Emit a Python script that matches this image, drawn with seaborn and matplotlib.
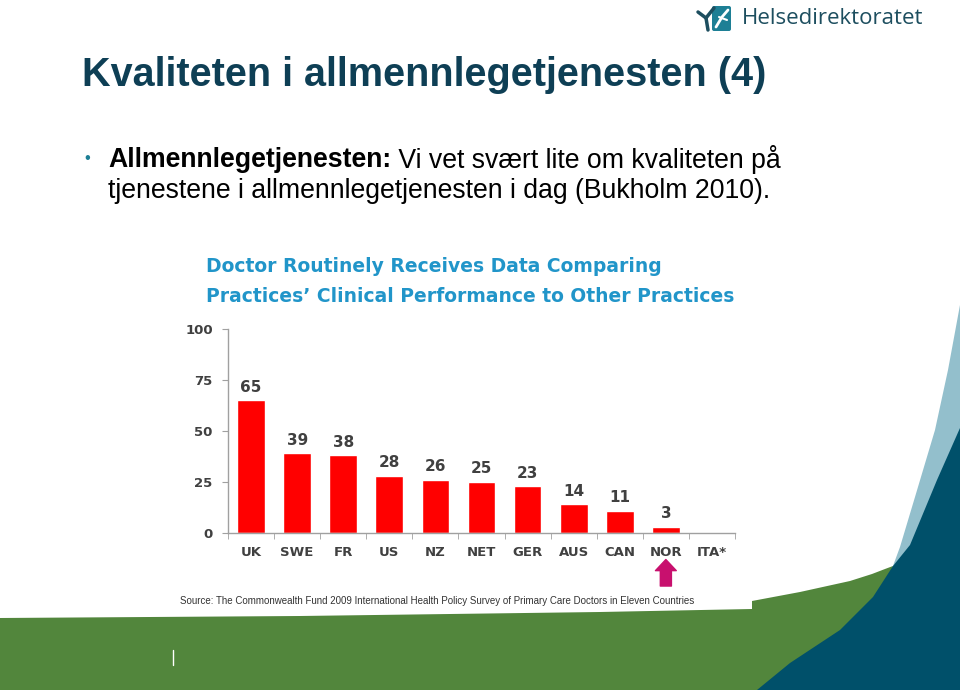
import matplotlib
matplotlib.use("Agg")
import matplotlib.pyplot as plt
from matplotlib.patches import Polygon, FancyBboxPatch
import seaborn as sns

# data
countries = ["UK", "SWE", "FR", "US", "NZ", "NET", "GER", "AUS", "CAN", "NOR", "ITA*"]
shares = [65, 39, 38, 28, 26, 25, 23, 14, 11, 3]   # ITA* has no value
highlight = "NOR"

slide_title = "Kvaliteten i allmennlegetjenesten (4)"
bullet_bold = "Allmennlegetjenesten:"
bullet_rest = " Vi vet svært lite om kvaliteten på"
bullet_line2 = "tjenestene i allmennlegetjenesten i dag (Bukholm 2010)."
chart_title = ["Doctor Routinely Receives Data Comparing",
               "Practices\u2019 Clinical Performance to Other Practices"]
source = "Source: The Commonwealth Fund 2009 International Health Policy Survey of Primary Care Doctors in Eleven Countries"

W, H = 960, 690
sns.set_style("white")
plt.rcParams["font.family"] = ["Liberation Sans", "DejaVu Sans"]

fig = plt.figure(figsize=(W / 100, H / 100), dpi=100)

def fx(x):
    return x / W

def fy(y):
    return 1 - y / H

# background decoration (pixel coords)
bg = fig.add_axes([0, 0, 1, 1], zorder=-1)
bg.set_xlim(0, W)
bg.set_ylim(H, 0)
bg.axis("off")
green = [(0, 618), (300, 616), (600, 612), (752, 609), (752, 601), (800, 592),
         (850, 581), (872, 574), (885, 569), (893, 566), (960, 566), (960, 690), (0, 690)]
lightblue = [(890, 574), (900, 547), (915, 497), (935, 430), (948, 370), (960, 305),
             (960, 690), (890, 690)]
darkteal = [(757, 690), (790, 663), (840, 630), (873, 597), (893, 566), (910, 545),
            (937, 480), (960, 428), (960, 690)]
bg.add_patch(Polygon(green, closed=True, color="#52863c", lw=0))
bg.add_patch(Polygon(lightblue, closed=True, color="#93bfcc", lw=0))
bg.add_patch(Polygon(darkteal, closed=True, color="#00506a", lw=0))
bg.plot([173, 173], [650, 665], color="white", lw=1)

# logo
bg.add_patch(FancyBboxPatch((712, 6), 19, 25, boxstyle="round,pad=0,rounding_size=2",
                            color="#1d7f95", lw=0))
bg.plot([716, 722, 728], [27, 17, 10], color="white", lw=2)
bg.plot([719, 727], [17, 20], color="white", lw=1.5)
bg.plot([698, 706, 714], [12, 18, 8], color="#1d4e5f", lw=2.5)
bg.plot([706, 708], [18, 30], color="#1d4e5f", lw=2.5)
fig.text(fx(742), fy(18), "Helsedirektoratet", fontsize=16, color="#1d4e5f",
         va="center", ha="left", family=["Open Sans", "DejaVu Sans"])

# slide texts
fig.text(fx(82), fy(75), slide_title, fontsize=28.5, fontweight="bold",
         color="#0e3f55", va="center", ha="left")
fig.text(fx(84), fy(159), "\u2022", fontsize=12, color="#1d7f95", va="center")
t1 = fig.text(fx(108), fy(160), bullet_bold, fontsize=19.2, fontweight="bold",
              color="black", va="center", ha="left")
fig.canvas.draw()
bb = t1.get_window_extent()
fig.text(bb.x1 / W, fy(160), bullet_rest, fontsize=19.2, color="black",
         va="center", ha="left")
fig.text(fx(108), fy(191), bullet_line2, fontsize=19.2, color="black",
         va="center", ha="left")

fig.text(fx(206), fy(266), chart_title[0], fontsize=13.5, fontweight="bold",
         color="#2195c9", va="center", family=["DejaVu Sans"])
fig.text(fx(206), fy(297), chart_title[1], fontsize=13.5, fontweight="bold",
         color="#2195c9", va="center", family=["DejaVu Sans"])
fig.text(fx(180), fy(601), source, fontsize=7, color="#333333", va="center")

# chart
ax = fig.add_axes([fx(228), fy(533), fx(735) - fx(228), (533 - 329) / H])
ax.patch.set_alpha(0)
sns.barplot(x=countries[:len(shares)], y=shares, order=countries, color="#ff0000",
            saturation=1, width=0.6, ax=ax)
ax.set_ylim(0, 100)
ax.set_xlim(-0.5, len(countries) - 0.5)
ax.set_yticks([0, 25, 50, 75, 100])
grey = "#404040"
ax.bar_label(ax.containers[0], padding=4, fontsize=11, fontweight="bold",
             color=grey, family=["DejaVu Sans"])
ax.set_xticks(range(len(countries)))
ax.set_xticks([i - 0.5 for i in range(len(countries) + 1)], minor=True)
ax.tick_params(axis="x", which="major", length=0, pad=9)
ax.tick_params(axis="x", which="minor", length=4, direction="out", color="#a0a0a0", bottom=True)
ax.tick_params(axis="y", length=4, direction="out", color="#a0a0a0", left=True, pad=7)
for lab in ax.get_xticklabels() + ax.get_yticklabels():
    lab.set_fontweight("bold")
    lab.set_fontsize(9.5)
    lab.set_color(grey)
    lab.set_family(["DejaVu Sans"])
for s in ["top", "right"]:
    ax.spines[s].set_visible(False)
for s in ["left", "bottom"]:
    ax.spines[s].set_color("#a0a0a0")
    ax.spines[s].set_linewidth(1)
ax.set_xlabel("")
ax.set_ylabel("")

# arrow pointing at Norway
ni = countries.index(highlight)
ax.annotate("", xy=(ni, -0.13), xytext=(ni, -0.26),
            xycoords=("data", "axes fraction"), textcoords=("data", "axes fraction"),
            arrowprops=dict(arrowstyle="simple,head_width=1.5,head_length=0.8,tail_width=0.8",
                            color="#c8106e", mutation_scale=10, shrinkA=0, shrinkB=0),
            annotation_clip=False)

fig.savefig("out.png", dpi=100)
